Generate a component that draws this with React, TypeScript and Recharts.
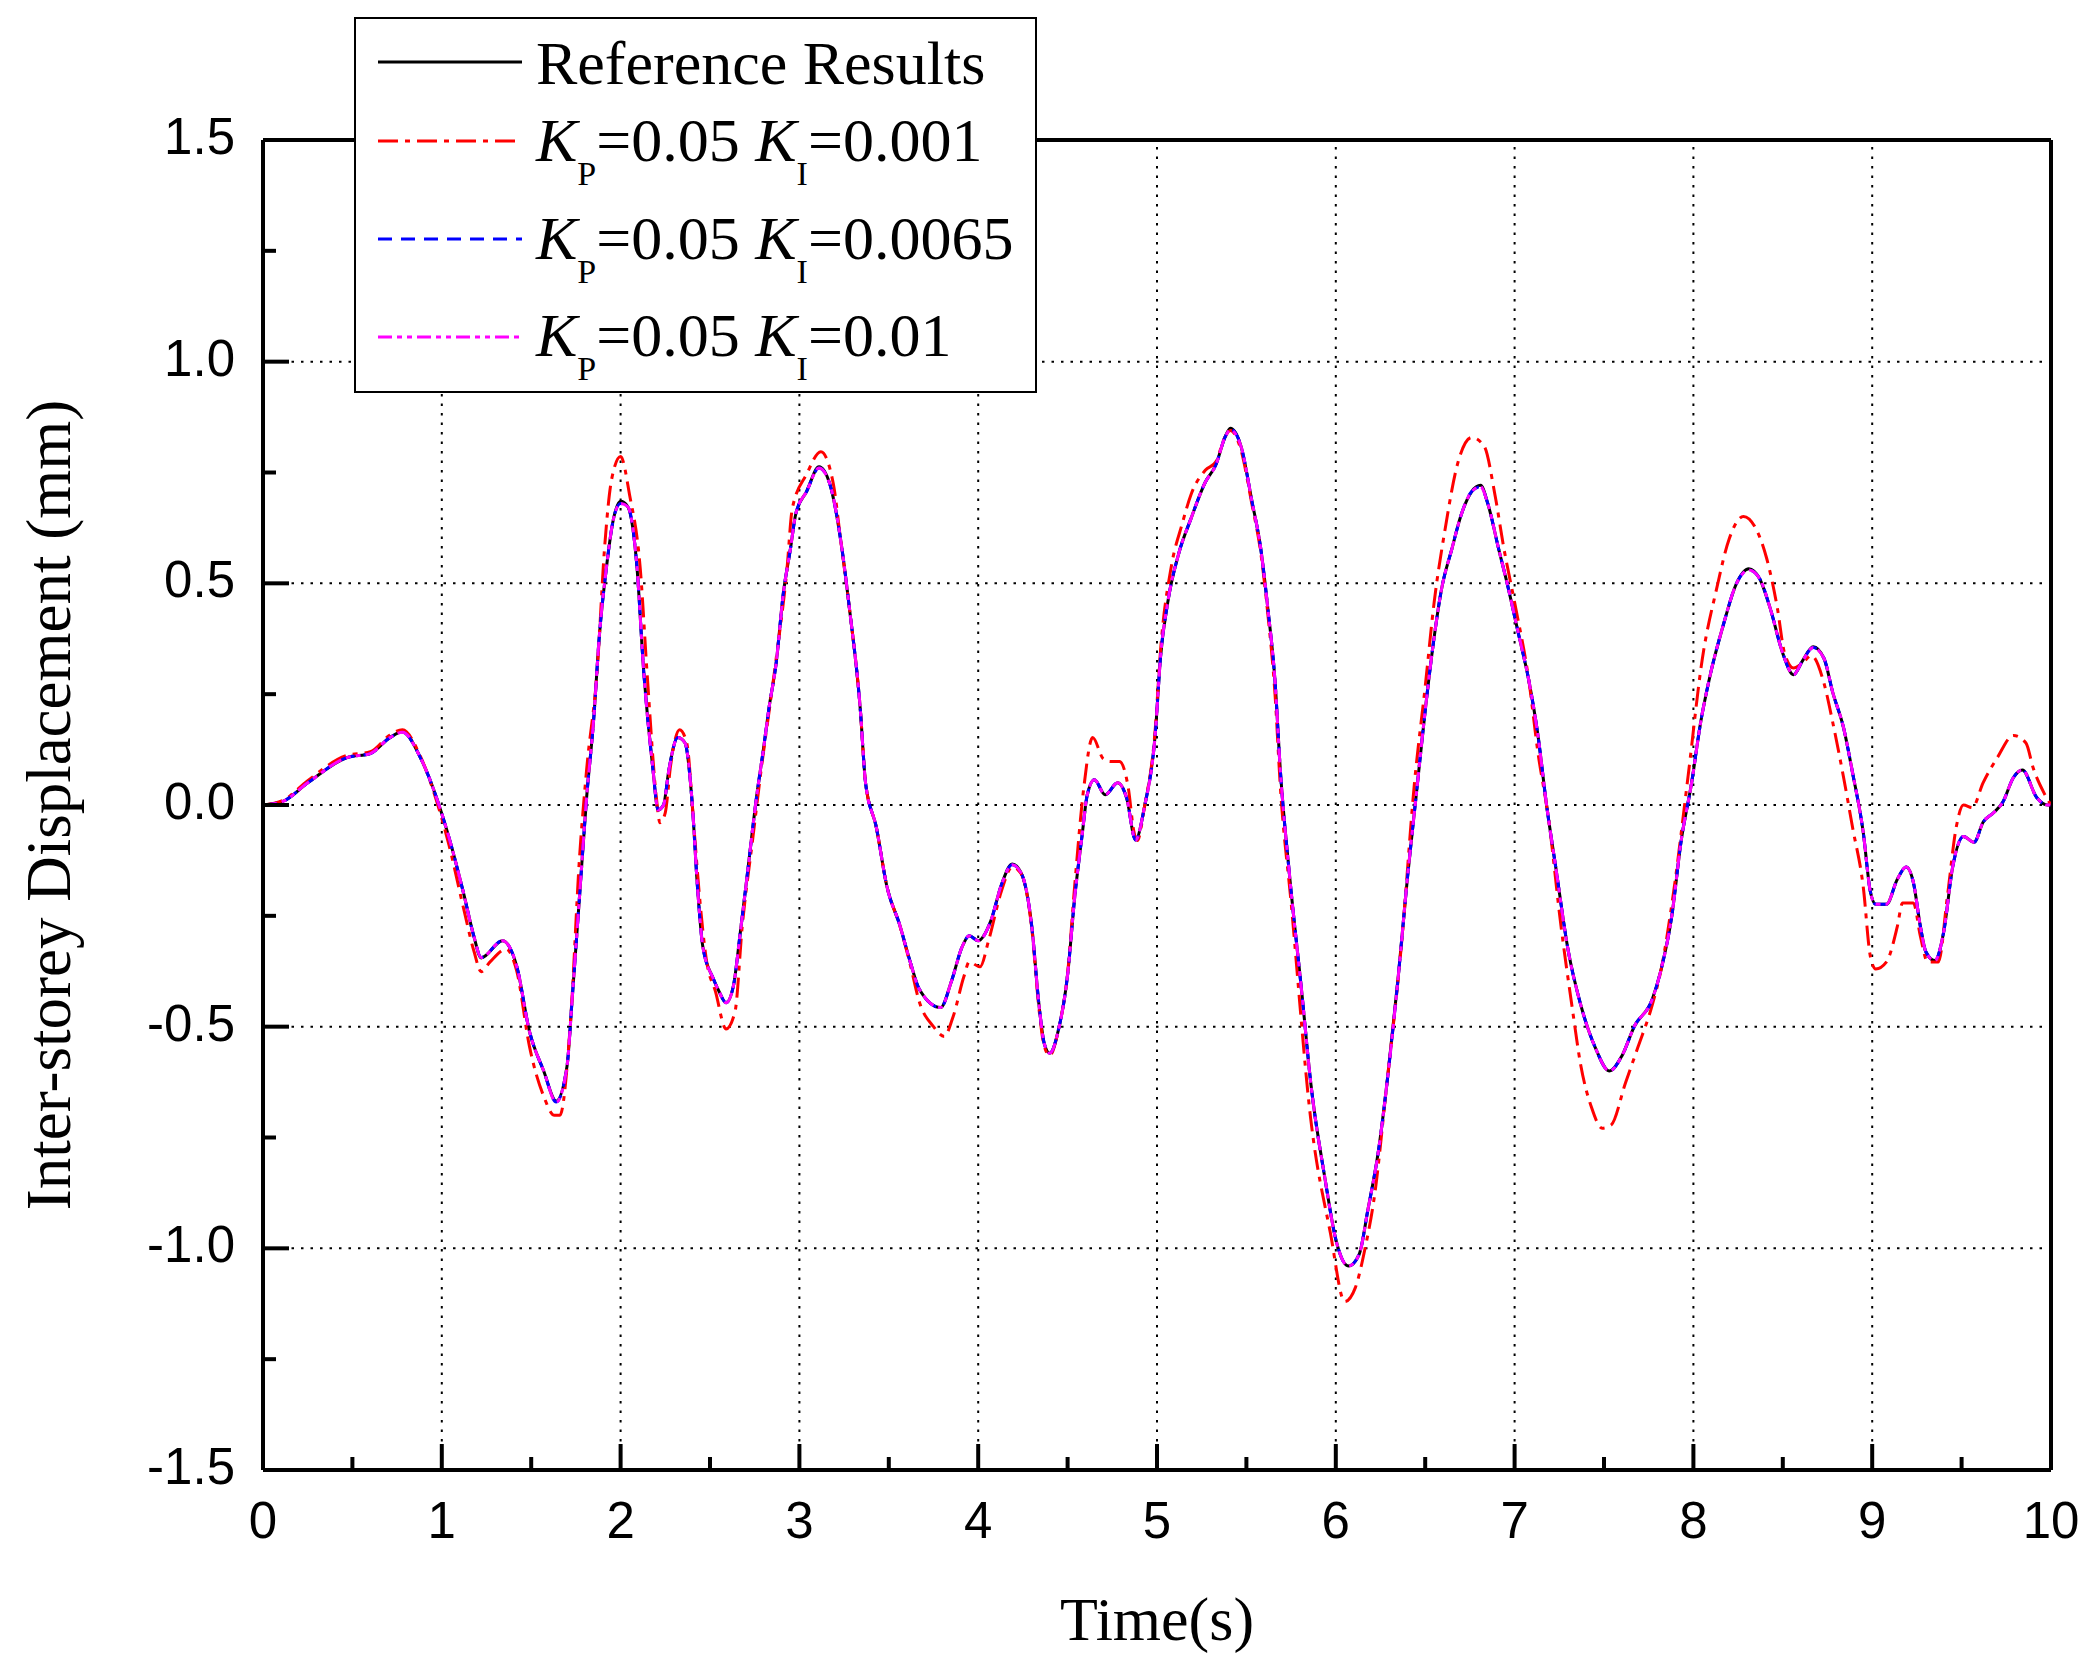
import React from 'react';
import { LineChart, Line, XAxis, YAxis, ReferenceLine, Legend, Label } from 'recharts';

// time axis of the reference curve (the two PI curves sit on top of it)
const refTime = [
  0, 0.11, 0.25, 0.47, 0.6, 0.71, 0.78, 0.88, 0.97, 1.04,
  1.12, 1.18, 1.22, 1.34, 1.42, 1.49, 1.57, 1.64, 1.7, 1.73,
  1.77, 1.81, 1.85, 1.88, 1.92, 1.96, 2.0, 2.04, 2.09, 2.13,
  2.18, 2.21, 2.24, 2.27, 2.32, 2.36, 2.4, 2.43, 2.46, 2.52,
  2.55, 2.59, 2.63, 2.67, 2.71, 2.76, 2.8, 2.83, 2.87, 2.91,
  2.95, 2.98, 3.04, 3.11, 3.17, 3.23, 3.28, 3.34, 3.37, 3.43,
  3.49, 3.56, 3.62, 3.67, 3.79, 3.85, 3.91, 3.95, 4.0, 4.07,
  4.13, 4.19, 4.24, 4.3, 4.34, 4.37, 4.4, 4.45, 4.5, 4.54,
  4.58, 4.61, 4.65, 4.71, 4.78, 4.83, 4.88, 4.93, 4.99, 5.02,
  5.06, 5.12, 5.19, 5.27, 5.33, 5.38, 5.41, 5.47, 5.53, 5.58,
  5.62, 5.66, 5.69, 5.74, 5.81, 5.86, 5.94, 6.0, 6.07, 6.13,
  6.18, 6.24, 6.29, 6.35, 6.4, 6.45, 6.5, 6.54, 6.59, 6.65,
  6.7, 6.76, 6.81, 6.85, 6.91, 6.96, 7.02, 7.08, 7.13, 7.18,
  7.23, 7.3, 7.37, 7.45, 7.53, 7.6, 7.67, 7.77, 7.82, 7.88,
  7.93, 7.99, 8.04, 8.09, 8.17, 8.24, 8.31, 8.37, 8.43, 8.5,
  8.56, 8.61, 8.67, 8.73, 8.78, 8.84, 8.89, 8.95, 8.99, 9.02,
  9.08, 9.14, 9.19, 9.23, 9.27, 9.3, 9.35, 9.4, 9.45, 9.51,
  9.57, 9.62, 9.68, 9.73, 9.79, 9.84, 9.92, 9.98, 10,
];

const refValues = [
  0, 0.008, 0.05, 0.107, 0.116, 0.152, 0.165, 0.107, 0.017, -0.073,
  -0.196, -0.297, -0.345, -0.306, -0.365, -0.51, -0.6, -0.668, -0.59, -0.432,
  -0.208, 0.017, 0.196, 0.376, 0.533, 0.645, 0.685, 0.673, 0.544, 0.297,
  0.084, -0.011, 0.0, 0.079, 0.152, 0.14, 0.006, -0.185, -0.32, -0.393,
  -0.42, -0.446, -0.41, -0.286, -0.152, 0.017, 0.129, 0.219, 0.32, 0.477,
  0.578, 0.657, 0.707, 0.763, 0.724, 0.6, 0.443, 0.219, 0.05, -0.05,
  -0.185, -0.269, -0.354, -0.415, -0.457, -0.398, -0.32, -0.295, -0.306, -0.262,
  -0.18, -0.133, -0.153, -0.275, -0.451, -0.539, -0.56, -0.505, -0.383, -0.207,
  -0.072, 0.023, 0.057, 0.023, 0.05, 0.016, -0.079, -0.004, 0.159, 0.335,
  0.457, 0.565, 0.646, 0.728, 0.768, 0.829, 0.85, 0.809, 0.687, 0.579,
  0.443, 0.28, 0.077, -0.153, -0.424, -0.627, -0.844, -0.98, -1.04, -1.014,
  -0.912, -0.776, -0.614, -0.384, -0.167, 0.023, 0.213, 0.348, 0.484, 0.579,
  0.653, 0.707, 0.721, 0.68, 0.579, 0.497, 0.389, 0.28, 0.159, -0.004,
  -0.14, -0.329, -0.451, -0.546, -0.6, -0.566, -0.499, -0.438, -0.37, -0.248,
  -0.085, 0.05, 0.185, 0.286, 0.41, 0.499, 0.533, 0.511, 0.443, 0.342,
  0.294, 0.325, 0.357, 0.331, 0.253, 0.174, 0.073, -0.062, -0.196, -0.224,
  -0.224, -0.168, -0.14, -0.174, -0.275, -0.331, -0.351, -0.286, -0.14, -0.071,
  -0.084, -0.039, -0.017, 0.006, 0.062, 0.079, 0.017, 0.0, 0.0,
];

// KP=0.05 KI=0.0065 (read on the same time points)
const ki0065Values = [
  0, 0.008, 0.05, 0.107, 0.116, 0.152, 0.164, 0.107, 0.017, -0.073,
  -0.196, -0.297, -0.344, -0.306, -0.365, -0.51, -0.6, -0.67, -0.59, -0.432,
  -0.208, 0.017, 0.196, 0.376, 0.533, 0.645, 0.68, 0.673, 0.544, 0.297,
  0.084, -0.011, 0.0, 0.079, 0.152, 0.14, 0.006, -0.185, -0.32, -0.393,
  -0.42, -0.446, -0.41, -0.286, -0.152, 0.017, 0.129, 0.219, 0.32, 0.477,
  0.578, 0.657, 0.707, 0.76, 0.724, 0.6, 0.443, 0.219, 0.05, -0.05,
  -0.185, -0.269, -0.354, -0.415, -0.457, -0.398, -0.32, -0.295, -0.306, -0.262,
  -0.18, -0.135, -0.153, -0.275, -0.451, -0.539, -0.56, -0.505, -0.383, -0.207,
  -0.072, 0.023, 0.057, 0.023, 0.05, 0.016, -0.079, -0.004, 0.159, 0.335,
  0.457, 0.565, 0.646, 0.728, 0.768, 0.829, 0.848, 0.809, 0.687, 0.579,
  0.443, 0.28, 0.077, -0.153, -0.424, -0.627, -0.844, -0.98, -1.04, -1.014,
  -0.912, -0.776, -0.614, -0.384, -0.167, 0.023, 0.213, 0.348, 0.484, 0.579,
  0.653, 0.707, 0.718, 0.68, 0.579, 0.497, 0.389, 0.28, 0.159, -0.004,
  -0.14, -0.329, -0.451, -0.546, -0.6, -0.566, -0.499, -0.438, -0.37, -0.248,
  -0.085, 0.05, 0.185, 0.286, 0.41, 0.499, 0.53, 0.511, 0.443, 0.342,
  0.294, 0.325, 0.355, 0.331, 0.253, 0.174, 0.073, -0.062, -0.196, -0.224,
  -0.224, -0.168, -0.14, -0.174, -0.275, -0.331, -0.351, -0.286, -0.14, -0.071,
  -0.084, -0.039, -0.017, 0.006, 0.062, 0.079, 0.017, 0.0, 0.0,
];

// KP=0.05 KI=0.01
const ki001Values = [
  0, 0.008, 0.05, 0.107, 0.116, 0.152, 0.164, 0.107, 0.017, -0.073,
  -0.196, -0.297, -0.344, -0.306, -0.365, -0.51, -0.6, -0.67, -0.59, -0.432,
  -0.208, 0.017, 0.196, 0.376, 0.533, 0.645, 0.68, 0.673, 0.544, 0.297,
  0.084, -0.011, 0.0, 0.079, 0.152, 0.14, 0.006, -0.185, -0.32, -0.393,
  -0.42, -0.446, -0.41, -0.286, -0.152, 0.017, 0.129, 0.219, 0.32, 0.477,
  0.578, 0.657, 0.707, 0.76, 0.724, 0.6, 0.443, 0.219, 0.05, -0.05,
  -0.185, -0.269, -0.354, -0.415, -0.457, -0.398, -0.32, -0.295, -0.306, -0.262,
  -0.18, -0.135, -0.153, -0.275, -0.451, -0.539, -0.56, -0.505, -0.383, -0.207,
  -0.072, 0.023, 0.057, 0.023, 0.05, 0.016, -0.079, -0.004, 0.159, 0.335,
  0.457, 0.565, 0.646, 0.728, 0.768, 0.829, 0.846, 0.809, 0.687, 0.579,
  0.443, 0.28, 0.077, -0.153, -0.424, -0.627, -0.844, -0.98, -1.04, -1.014,
  -0.912, -0.776, -0.614, -0.384, -0.167, 0.023, 0.213, 0.348, 0.484, 0.579,
  0.653, 0.707, 0.718, 0.68, 0.579, 0.497, 0.389, 0.28, 0.159, -0.004,
  -0.14, -0.329, -0.451, -0.546, -0.6, -0.566, -0.499, -0.438, -0.37, -0.248,
  -0.085, 0.05, 0.185, 0.286, 0.41, 0.499, 0.53, 0.511, 0.443, 0.342,
  0.294, 0.325, 0.355, 0.331, 0.253, 0.174, 0.073, -0.062, -0.196, -0.224,
  -0.224, -0.168, -0.14, -0.174, -0.275, -0.331, -0.351, -0.286, -0.14, -0.071,
  -0.084, -0.039, -0.017, 0.006, 0.062, 0.079, 0.017, 0.0, 0.0,
];

// KP=0.05 KI=0.001 (the red curve drifts away, so it has its own time points)
const ki0001Time = [
  0, 0.11, 0.25, 0.47, 0.6, 0.71, 0.78, 0.88, 0.97, 1.04,
  1.12, 1.18, 1.22, 1.27, 1.36, 1.42, 1.49, 1.57, 1.63, 1.66,
  1.72, 1.77, 1.81, 1.87, 1.91, 1.95, 2.0, 2.05, 2.11, 2.15,
  2.2, 2.22, 2.25, 2.28, 2.33, 2.37, 2.41, 2.44, 2.48, 2.53,
  2.59, 2.64, 2.68, 2.74, 2.78, 2.87, 2.93, 2.96, 3.04, 3.12,
  3.19, 3.23, 3.28, 3.34, 3.37, 3.43, 3.49, 3.56, 3.62, 3.67,
  3.75, 3.81, 3.86, 3.92, 3.95, 4.01, 4.06, 4.13, 4.19, 4.24,
  4.3, 4.34, 4.37, 4.4, 4.45, 4.5, 4.54, 4.59, 4.64, 4.7,
  4.74, 4.79, 4.84, 4.87, 4.89, 4.93, 4.99, 5.02, 5.08, 5.14,
  5.19, 5.27, 5.33, 5.38, 5.41, 5.47, 5.53, 5.58, 5.62, 5.66,
  5.69, 5.75, 5.86, 5.97, 6.05, 6.11, 6.16, 6.22, 6.28, 6.37,
  6.44, 6.5, 6.55, 6.61, 6.68, 6.76, 6.83, 6.89, 6.94, 7.0,
  7.08, 7.13, 7.19, 7.26, 7.32, 7.37, 7.43, 7.49, 7.54, 7.62,
  7.69, 7.77, 7.82, 7.89, 7.97, 8.05, 8.13, 8.2, 8.28, 8.35,
  8.41, 8.47, 8.51, 8.56, 8.61, 8.66, 8.73, 8.78, 8.84, 8.89,
  8.95, 8.99, 9.02, 9.08, 9.14, 9.17, 9.23, 9.27, 9.31, 9.37,
  9.42, 9.47, 9.51, 9.56, 9.62, 9.7, 9.79, 9.86, 9.9, 9.96, 10,
];

const ki0001Values = [
  0, 0.01, 0.055, 0.112, 0.12, 0.158, 0.17, 0.11, 0.01, -0.09,
  -0.23, -0.33, -0.376, -0.354, -0.325, -0.376, -0.544, -0.657, -0.7, -0.7,
  -0.488, -0.12, 0.08, 0.309, 0.578, 0.735, 0.786, 0.7, 0.533, 0.286,
  0.017, -0.04, -0.017, 0.09, 0.17, 0.14, -0.05, -0.2, -0.35, -0.42,
  -0.505, -0.466, -0.275, -0.073, 0.06, 0.33, 0.53, 0.668, 0.746, 0.797,
  0.724, 0.6, 0.443, 0.219, 0.05, -0.05, -0.185, -0.27, -0.36, -0.443,
  -0.5, -0.522, -0.477, -0.387, -0.354, -0.365, -0.303, -0.194, -0.14, -0.155,
  -0.28, -0.46, -0.545, -0.565, -0.505, -0.38, -0.18, 0.037, 0.152, 0.104,
  0.098, 0.098, 0.037, -0.058, -0.08, -0.004, 0.17, 0.35, 0.538, 0.633,
  0.7, 0.755, 0.775, 0.83, 0.845, 0.8, 0.68, 0.57, 0.43, 0.25,
  0.04, -0.22, -0.709, -0.966, -1.12, -1.088, -1.007, -0.871, -0.65, -0.302,
  0.05, 0.267, 0.457, 0.619, 0.768, 0.829, 0.809, 0.7, 0.579, 0.457,
  0.28, 0.12, -0.031, -0.275, -0.451, -0.587, -0.682, -0.729, -0.722, -0.627,
  -0.546, -0.451, -0.37, -0.194, 0.064, 0.33, 0.488, 0.6, 0.651, 0.623,
  0.556, 0.443, 0.342, 0.309, 0.32, 0.337, 0.275, 0.185, 0.062, -0.05,
  -0.185, -0.342, -0.37, -0.354, -0.275, -0.221, -0.221, -0.297, -0.354, -0.354,
  -0.208, -0.05, 0.0, -0.006, 0.05, 0.107, 0.157, 0.14, 0.084, 0.028, 0.0,
];

const xTicks = [0, 0.5, 1, 1.5, 2, 2.5, 3, 3.5, 4, 4.5, 5, 5.5, 6, 6.5, 7, 7.5, 8, 8.5, 9, 9.5, 10];
const yTicks = [-1.5, -1.25, -1, -0.75, -0.5, -0.25, 0, 0.25, 0.5, 0.75, 1, 1.25, 1.5];
const xGrid = [1, 2, 3, 4, 5, 6, 7, 8, 9];
const yGrid = [-1, -0.5, 0, 0.5, 1];

const SANS = '"Liberation Sans", Arial, sans-serif';
const SERIF = '"Liberation Serif", "Times New Roman", serif';

const toPoints = (ts: number[], vs: number[]) => ts.map((t, i) => ({ t, v: vs[i] }));

const series = [
  { key: 'ref', label: 'Reference Results', kp: '', ki: '', color: '#000000', dash: undefined, data: toPoints(refTime, refValues) },
  { key: 'ki0001', label: '', kp: '0.05', ki: '0.001', color: '#ff0000', dash: '20 7 5 7', data: toPoints(ki0001Time, ki0001Values) },
  { key: 'ki0065', label: '', kp: '0.05', ki: '0.0065', color: '#0000ff', dash: '14 9', data: toPoints(refTime, ki0065Values) },
  { key: 'ki001', label: '', kp: '0.05', ki: '0.01', color: '#ff00ff', dash: '14 5 5 5 5 5', data: toPoints(refTime, ki001Values) },
];

const XTick = ({ x, y, payload }: any) => {
  const v = payload.value;
  const major = Number.isInteger(v);
  return (
    <g>
      <line x1={x} x2={x} y1={y} y2={y - (major ? 26 : 13)} stroke="#000" strokeWidth={4} />
      {major && (
        <text x={x} y={y + 68} textAnchor="middle" fontFamily={SANS} fontSize={51} fill="#000">
          {v}
        </text>
      )}
    </g>
  );
};

const YTick = ({ x, y, payload }: any) => {
  const v = payload.value;
  const major = Math.abs(v * 2 - Math.round(v * 2)) < 1e-6;
  return (
    <g>
      <line x1={x} x2={x + (major ? 26 : 13)} y1={y} y2={y} stroke="#000" strokeWidth={4} />
      {major && (
        <text x={x - 28} y={y + 14} textAnchor="end" fontFamily={SANS} fontSize={51} fill="#000">
          {v.toFixed(1)}
        </text>
      )}
    </g>
  );
};

// legend box with the sample strokes and K_P / K_I labels
const renderLegend = () => {
  const rows = [
    { sampleY: 43, textY: 65 },
    { sampleY: 122, textY: 142 },
    { sampleY: 220, textY: 240 },
    { sampleY: 318, textY: 337 },
  ];
  return (
    <div style={{ width: 683, height: 376, background: '#fff', border: '2px solid #000', boxSizing: 'border-box' }}>
      <svg width={679} height={372} style={{ display: 'block' }}>
        {series.map((s, i) => (
          <g key={s.key}>
            <line x1={22} x2={166} y1={rows[i].sampleY} y2={rows[i].sampleY} stroke={s.color} strokeWidth={3} strokeDasharray={s.dash} />
            {s.label ? (
              <text x={180} y={rows[i].textY} fontFamily={SERIF} fontSize={62} fill="#000">{s.label}</text>
            ) : (
              <text x={180} y={rows[i].textY} fontFamily={SERIF} fontSize={62} fill="#000">
                <tspan fontStyle="italic">K</tspan>
                <tspan fontSize={34} dy={24}>P</tspan>
                <tspan dy={-24}>=0.05 </tspan>
                <tspan fontStyle="italic">K</tspan>
                <tspan fontSize={34} dy={24}>I</tspan>
                <tspan dy={-24}>={s.ki}</tspan>
              </text>
            )}
          </g>
        ))}
      </svg>
    </div>
  );
};

export default function App() {
  return (
    <div style={{ position: 'absolute', left: 0, top: 0, width: 2085, height: 1656, background: '#fff' }}>
      <LineChart width={2085} height={1656} margin={{ top: 140, right: 34, bottom: 0, left: 0 }}>
        <XAxis
          dataKey="t"
          type="number"
          domain={[0, 10]}
          ticks={xTicks}
          interval={0}
          height={186}
          tickSize={0}
          tickMargin={0}
          tickLine={false}
          axisLine={{ stroke: '#000', strokeWidth: 4 }}
          tick={<XTick />}
          allowDataOverflow
        >
          <Label
            content={({ viewBox }: any) => (
              <text x={viewBox.x + viewBox.width / 2} y={viewBox.y + 170} textAnchor="middle" fontFamily={SERIF} fontSize={62} fill="#000">
                Time(s)
              </text>
            )}
          />
        </XAxis>
        <YAxis
          type="number"
          domain={[-1.5, 1.5]}
          ticks={yTicks}
          interval={0}
          width={263}
          tickSize={0}
          tickMargin={0}
          tickLine={false}
          axisLine={{ stroke: '#000', strokeWidth: 4 }}
          tick={<YTick />}
          allowDataOverflow
        >
          <Label
            content={({ viewBox }: any) => {
              const cx = 70;
              const cy = viewBox.y + viewBox.height / 2;
              return (
                <text x={cx} y={cy} transform={`rotate(-90 ${cx} ${cy})`} textAnchor="middle" fontFamily={SERIF} fontSize={63} fill="#000">
                  Inter-storey Displacement (mm)
                </text>
              );
            }}
          />
        </YAxis>
        {xGrid.map((g) => (
          <ReferenceLine key={`gx${g}`} x={g} stroke="#000" strokeWidth={2} strokeDasharray="2.5 7" />
        ))}
        {yGrid.map((g) => (
          <ReferenceLine key={`gy${g}`} y={g} stroke="#000" strokeWidth={2} strokeDasharray="2.5 7" />
        ))}
        <ReferenceLine y={1.5} stroke="#000" strokeWidth={4} />
        <ReferenceLine x={10} stroke="#000" strokeWidth={4} />
        {series.map((s) => (
          <Line
            key={s.key}
            data={s.data}
            dataKey="v"
            type="monotone"
            stroke={s.color}
            strokeWidth={3}
            strokeDasharray={s.dash}
            dot={false}
            activeDot={false}
            isAnimationActive={false}
          />
        ))}
        <Legend
          layout="vertical"
          align="center"
          verticalAlign="middle"
          content={renderLegend}
          wrapperStyle={{ left: 354, top: 17, width: 683, height: 376 }}
        />
      </LineChart>
    </div>
  );
}
